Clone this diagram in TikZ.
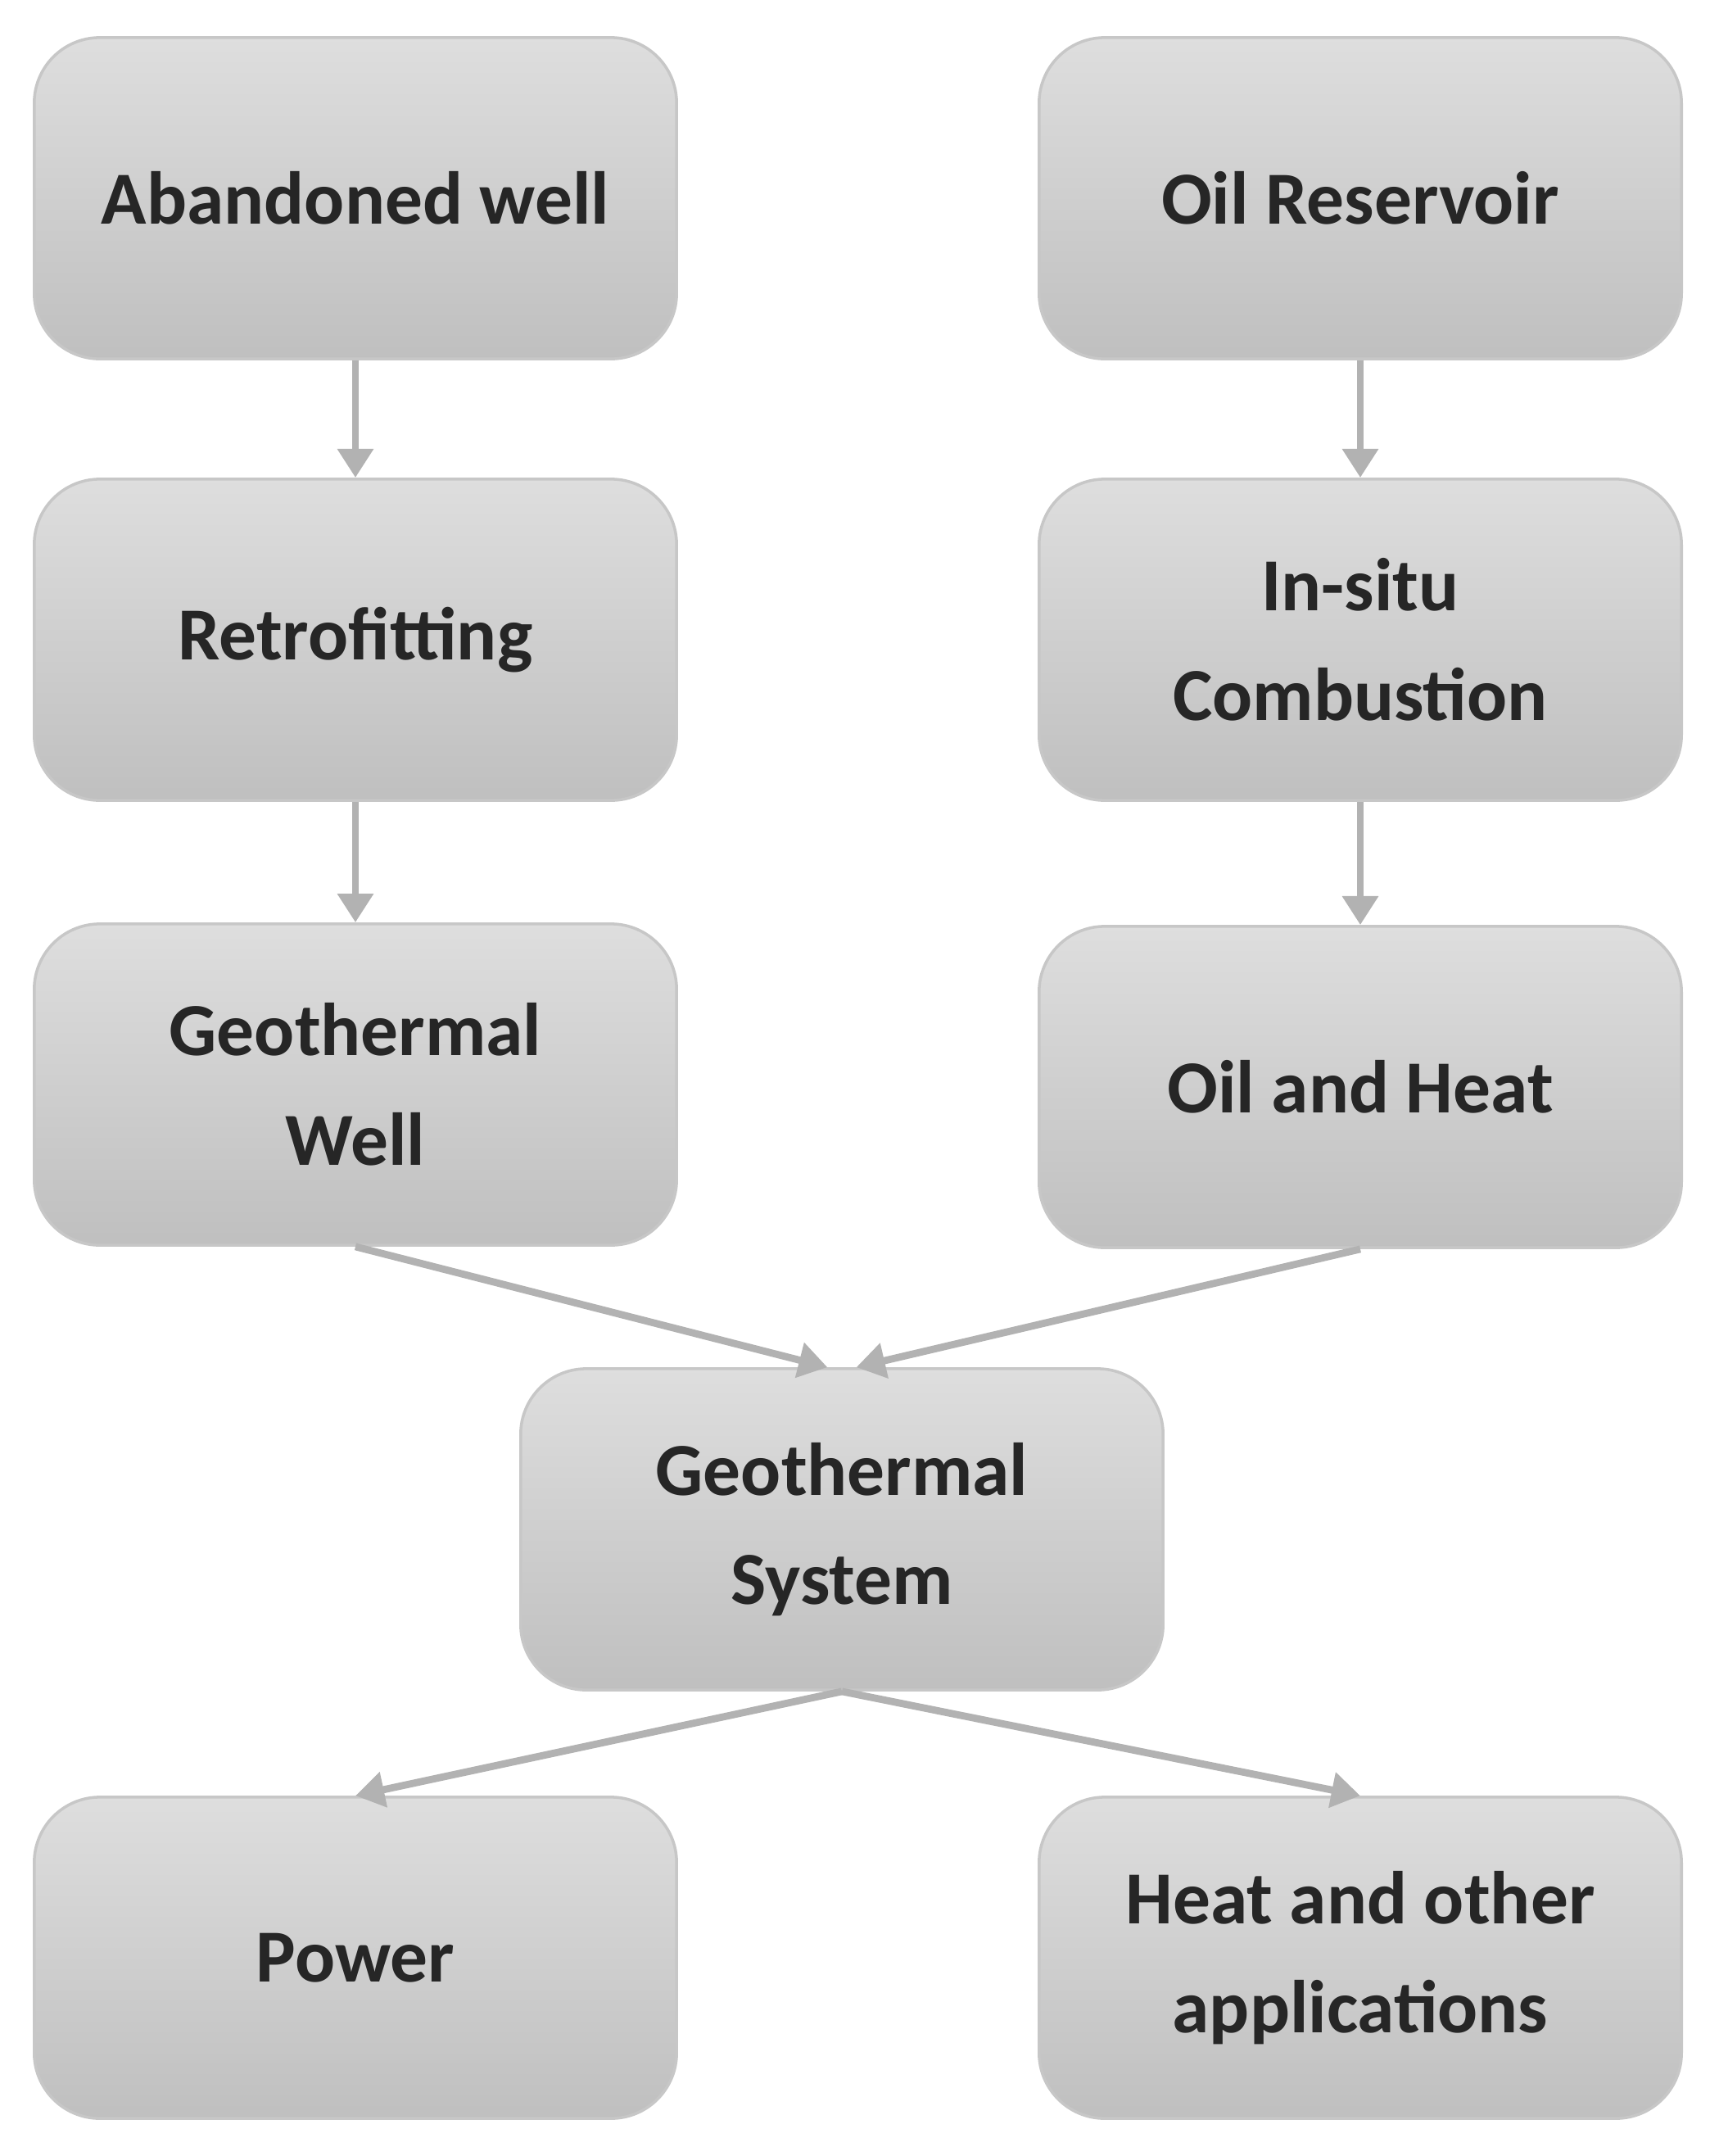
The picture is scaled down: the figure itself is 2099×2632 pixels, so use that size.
\documentclass[tikz,border=0pt]{standalone}
\usepackage{fontspec}
\setmainfont{Carlito}
\usetikzlibrary{arrows.meta}
\begin{document}
\begin{tikzpicture}[x=0.01cm,y=-0.01cm,
  box/.style={draw=black!22,line width=1pt,rounded corners=0.8cm,top color=black!13,bottom color=black!25,
    minimum width=7.84cm,minimum height=3.92cm,align=center,font=\fontsize{26}{38}\selectfont\bfseries,text=black!85},
  arr/.style={draw=black!30,line width=2.5pt,-{Triangle[length=10pt,width=12pt]}}]
\useasboundingbox (0,0) rectangle (2099,2632);
\node[box] (aw) at (434,242) {Abandoned well};
\node[box] (rf) at (434,781) {Retrofitting};
\node[box] (gw) at (434,1324) {Geothermal\\Well};
\node[box] (or) at (1661,242) {Oil Reservoir};
\node[box] (ic) at (1661,781) {In-situ\\Combustion};
\node[box] (oh) at (1661,1327) {Oil and Heat};
\node[box] (gs) at (1028,1867) {Geothermal\\System};
\node[box] (pw) at (434,2390) {Power};
\node[box] (ha) at (1661,2390) {Heat and other\\applications};
\draw[arr] (aw.south) -- (rf.north);
\draw[arr] (rf.south) -- (gw.north);
\draw[arr] (or.south) -- (ic.north);
\draw[arr] (ic.south) -- (oh.north);
\draw[arr] (gw.south) -- ([xshift=-5]gs.north);
\draw[arr] (oh.south) -- ([xshift=5]gs.north);
\draw[arr] (gs.south) -- (pw.north);
\draw[arr] (gs.south) -- (ha.north);
\end{tikzpicture}
\end{document}
